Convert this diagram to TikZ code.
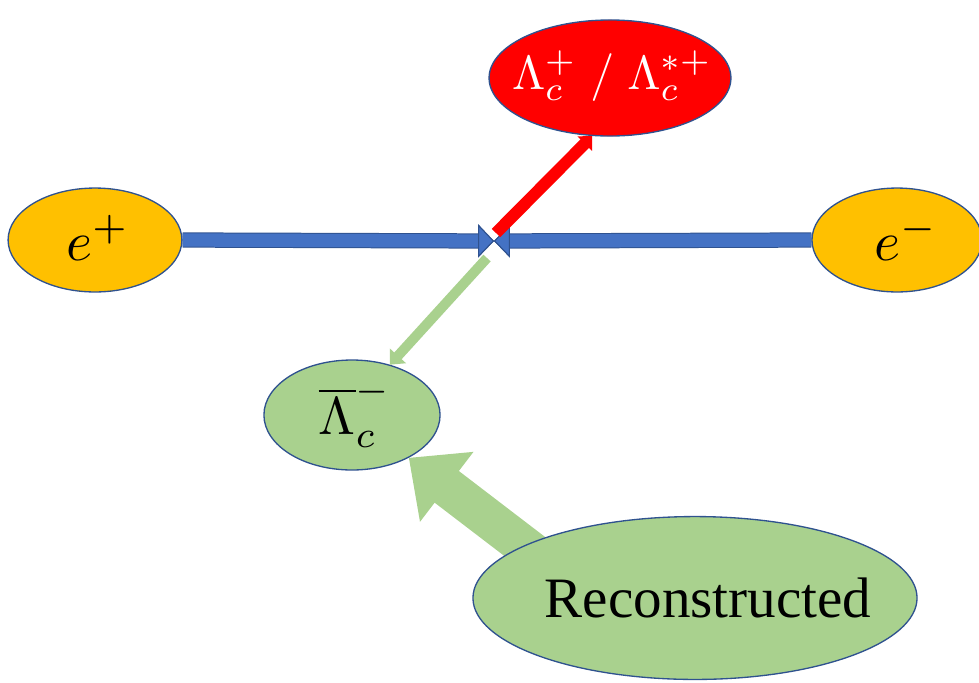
\documentclass[tikz,border=0pt]{standalone}
\usepackage[no-math]{fontspec}
\newfontfamily\recfont{Liberation Serif}
\usetikzlibrary{shapes.geometric,arrows.meta,backgrounds}
\definecolor{ballyellow}{HTML}{FFC000}
\definecolor{edgeblue}{HTML}{2F528F}
\definecolor{beamblue}{HTML}{4472C4}
\definecolor{lamred}{HTML}{FF0000}
\definecolor{lamgreen}{HTML}{A9D18E}
\newcommand{\bigmath}[2]{\scalebox{#1}{$#2$}}
\tikzset{
  particle/.style={ellipse, draw=edgeblue, line width=1pt, inner sep=0pt},
  beam/.style={draw=beamblue, line width=10pt,
    preaction={draw=edgeblue, line width=11.5pt},
    -{Triangle[width=25pt,length=12pt,fill=beamblue,color=edgeblue,line width=.8pt]}},
  redtrack/.style={draw=lamred, line width=9pt, -{Triangle[width=15pt,length=8pt]}},
  greentrack/.style={draw=lamgreen, line width=7.5pt, -{Triangle[width=16pt,length=9pt]}},
  recoarrow/.style={draw=lamgreen, line width=30pt, shorten <=-0.5cm,
    -{Triangle[width=64pt,length=36pt]}}
}
\begin{document}
\begin{tikzpicture}[x=0.02646cm, y=-0.02646cm]
\useasboundingbox (0,0) rectangle (979,682);
% beam particles
\node[particle, fill=ballyellow, minimum width=4.6cm, minimum height=2.75cm] (ep) at (95,240) {};
\node (eptext) at (98,238) {\bigmath{4.2}{e^+}};
\node[particle, fill=ballyellow, minimum width=4.5cm, minimum height=2.75cm] (em) at (897,240) {};
\node (emtext) at (906,238) {\bigmath{4.2}{e^-}};
% produced baryons
\node[particle, fill=lamred, minimum width=6.4cm, minimum height=3.07cm] (lc) at (610,78) {};
\node[text=white] (lctext) at (612,76) {\bigmath{3.6}{\Lambda_c^+\;/\;\Lambda_c^{*+}}};
\node[particle, fill=lamgreen, minimum width=4.66cm, minimum height=2.91cm] (lcb) at (352,415) {};
\node (lcbtext) at (355,413) {\bigmath{4}{\overline{\Lambda}_c^-}};
\node[particle, fill=lamgreen, minimum width=11.75cm, minimum height=4.31cm] (rec) at (695,598) {};
\node[font=\recfont\fontsize{43}{50}\selectfont] (rectext) at (708,598) {Reconstructed};
% collision point
\coordinate (vtx) at (494,241);
\coordinate (rs) at (496,233);
\coordinate (gs) at (487,258);
\begin{scope}[on background layer]
\draw[beam] (ep.east) -- (vtx);
\draw[beam] (em.west) -- (vtx);
\draw[recoarrow] (rec.163) -- (lcb.-37);
\end{scope}
\draw[redtrack] (rs) -- (lc.-107);
\draw[greentrack] (gs) -- (lcb.53);
\end{tikzpicture}
\end{document}
